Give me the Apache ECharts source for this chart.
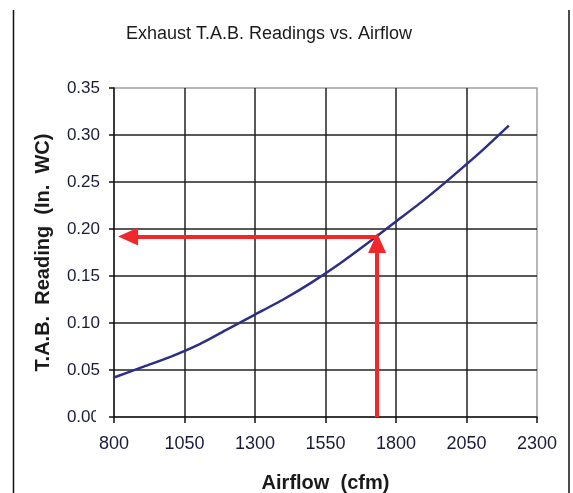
<!DOCTYPE html>
<html>
<head>
<meta charset="utf-8">
<script src="https://cdn.jsdelivr.net/npm/echarts@6/dist/echarts.min.js"></script>
<style>html,body{margin:0;padding:0;background:#fff;}#c{width:573px;height:493px;}</style>
</head>
<body>
<div id="c"></div>
<script>
const titleText = 'Exhaust T.A.B. Readings vs. Airflow';
const xName = 'Airflow  (cfm)';
const yName = 'T.A.B.  Reading  (In.  WC)';
const airflow = [800, 900, 1000, 1100, 1200, 1300, 1400, 1500, 1600, 1700, 1800, 1900, 2000, 2100, 2200];
const reading = [0.042, 0.053, 0.064, 0.077, 0.093, 0.109, 0.125, 0.143, 0.163, 0.185, 0.208, 0.231, 0.256, 0.282, 0.310];
const arrowAirflow = 1733;
const arrowReading = 0.192;
const arrowLeftEnd = 850;
const arrowTopEnd = 0.185;

const chart = echarts.init(document.getElementById('c'));
const font = 'Liberation Sans, Arial, sans-serif';
chart.setOption({
  animation: false,
  backgroundColor: '#fff',
  title: {
    text: titleText, left: 264, top: 20, textAlign: 'center',
    textStyle: { fontFamily: font, fontSize: 18, fontWeight: 'normal', color: '#1a1a1a' }
  },
  grid: { left: 114, right: 36, top: 88, bottom: 76, show: true, borderColor: '#a0a0a0', borderWidth: 1.5, outerBoundsMode: 'none', containLabel: false },
  xAxis: {
    type: 'value', min: 800, max: 2300, interval: 250,
    name: xName, nameLocation: 'middle', nameGap: 56,
    nameTextStyle: { fontFamily: font, fontSize: 20, fontWeight: 'bold', color: '#1a1a1a' },
    axisLine: { show: true, onZero: false, lineStyle: { color: '#111', width: 1.5 } },
    axisTick: { show: true, length: 6, lineStyle: { color: '#111', width: 1.5 } },
    axisLabel: { fontFamily: font, fontSize: 18, color: '#1a1a3a', margin: 18, formatter: v => String(v) },
    splitLine: { show: true, showMinLine: false, showMaxLine: false, lineStyle: { color: '#222', width: 1.5 } }
  },
  yAxis: {
    type: 'value', min: 0, max: 0.35, interval: 0.05,
    name: yName, nameLocation: 'middle', nameGap: 61, nameRotate: 90,
    nameTextStyle: { fontFamily: font, fontSize: 20, fontWeight: 'bold', color: '#1a1a1a' },
    axisLine: { show: true, lineStyle: { color: '#111', width: 1.5 } },
    axisTick: { show: true, length: 5, lineStyle: { color: '#111', width: 1.5 } },
    axisLabel: { fontFamily: font, fontSize: 17, color: '#1a1a3a', margin: 14, formatter: v => v.toFixed(2) },
    splitLine: { show: true, showMinLine: false, showMaxLine: false, lineStyle: { color: '#222', width: 1.5 } }
  },
  series: [{
    type: 'line',
    data: airflow.map((x, i) => [x, reading[i]]),
    smooth: 0.2,
    showSymbol: false,
    lineStyle: { color: '#2c2f86', width: 2.5 },
    z: 3,
    markLine: {
      silent: true,
      symbol: ['none', 'triangle'],
      symbolSize: [18, 20],
      label: { show: false },
      lineStyle: { color: '#f0282c', width: 4, type: 'solid' },
      itemStyle: { color: '#f0282c' },
      data: [
        [{ coord: [arrowAirflow, arrowReading] }, { coord: [arrowLeftEnd, arrowReading] }],
        [{ coord: [arrowAirflow, 0] }, { coord: [arrowAirflow, arrowTopEnd] }]
      ]
    }
  }],
  graphic: [
    { type: 'line', shape: { x1: 13.5, y1: 10, x2: 13.5, y2: 493 }, style: { stroke: '#111', lineWidth: 1.5 } },
    { type: 'line', shape: { x1: 569, y1: 10, x2: 569, y2: 493 }, style: { stroke: '#111', lineWidth: 1.5 } },
    { type: 'rect', z: 100, shape: { x: 96, y: 405, width: 7, height: 22 }, style: { fill: '#fff' } }
  ]
});
</script>
</body>
</html>
